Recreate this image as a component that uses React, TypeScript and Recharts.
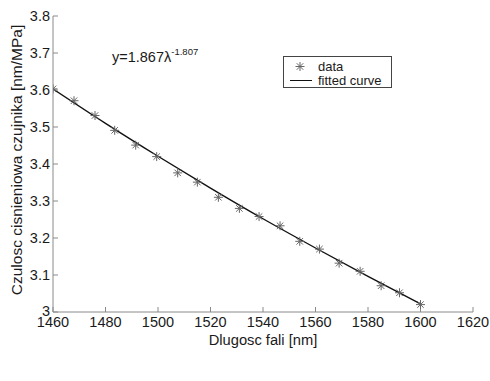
import React from "react";
import {
  ComposedChart,
  Line,
  Scatter,
  XAxis,
  YAxis,
  Legend,
} from "recharts";

// measured points (wavelength nm -> sensitivity nm/MPa)
const wavelengths = [
  1460, 1468, 1476, 1483.5, 1491.5, 1499.5, 1507.5, 1515, 1523, 1531, 1538.5,
  1546.5, 1554, 1561.5, 1569, 1577, 1585, 1592, 1600,
];
const sensitivity = [
  3.603, 3.571, 3.531, 3.491, 3.451, 3.42, 3.376, 3.351, 3.31, 3.28, 3.258,
  3.233, 3.191, 3.17, 3.132, 3.11, 3.071, 3.052, 3.02,
];

// fitted curve
const fitX = [1460, 1480, 1500, 1520, 1540, 1560, 1580, 1600];
const fitY = [3.603, 3.51, 3.421, 3.335, 3.252, 3.173, 3.096, 3.022];

const xTicks = [1460, 1480, 1500, 1520, 1540, 1560, 1580, 1600, 1620];
const yTicks = [3, 3.1, 3.2, 3.3, 3.4, 3.5, 3.6, 3.7, 3.8];

const measured = wavelengths.map((x, i) => ({ x, y: sensitivity[i] }));
const fitted = fitX.map((x, i) => ({ x, y: fitY[i] }));

const FONT = "'Liberation Sans', Arial, Helvetica, sans-serif";
const AXIS = "#8a8a8a";
const TEXT = "#1a1a1a";
const MARK = "#666";

function Star(props: any) {
  const { cx, cy } = props;
  if (cx == null || cy == null) return null;
  const r = 4.5;
  const d = r * 0.72;
  return (
    <g stroke={MARK} strokeWidth={1}>
      <line x1={cx - r} y1={cy} x2={cx + r} y2={cy} />
      <line x1={cx} y1={cy - r} x2={cx} y2={cy + r} />
      <line x1={cx - d} y1={cy - d} x2={cx + d} y2={cy + d} />
      <line x1={cx - d} y1={cy + d} x2={cx + d} y2={cy - d} />
    </g>
  );
}

// y tick label; the bottom "3" is lifted a little so it clears "1460"
function YTick(props: any) {
  const { x, y, payload } = props;
  const shift = payload.value === 3 ? -1 : 0;
  return (
    <text
      x={x}
      y={y + shift}
      dy="0.355em"
      textAnchor="end"
      fontSize={14.5}
      fontFamily={FONT}
      fill={TEXT}
    >
      {payload.value}
    </text>
  );
}

function LegendBox() {
  const row: React.CSSProperties = {
    display: "flex",
    alignItems: "center",
    height: 13,
    lineHeight: "13px",
  };
  return (
    <div
      style={{
        width: 109,
        height: 32,
        border: "1px solid #444",
        background: "#fff",
        fontFamily: FONT,
        fontSize: 13,
        color: TEXT,
        paddingTop: 3,
        boxSizing: "border-box",
      }}
    >
      <div style={{ ...row, marginBottom: 1 }}>
        <svg width={28} height={13} style={{ marginLeft: 6 }}>
          <Star cx={10} cy={6.5} />
        </svg>
        <span>data</span>
      </div>
      <div style={row}>
        <svg width={28} height={13} style={{ marginLeft: 6 }}>
          <line x1={0} y1={6.5} x2={22} y2={6.5} stroke="#111" strokeWidth={1} />
        </svg>
        <span>fitted curve</span>
      </div>
    </div>
  );
}

export default function App() {
  return (
    <div
      style={{
        position: "fixed",
        left: 0,
        top: 0,
        width: 490,
        height: 381,
        background: "#fff",
      }}
    >
      <ComposedChart
        width={490}
        height={381}
        margin={{ top: 16, right: 17, left: 0, bottom: 0 }}
      >
        <XAxis
          dataKey="x"
          type="number"
          domain={[1460, 1620]}
          ticks={xTicks}
          allowDataOverflow
          height={37}
          stroke={AXIS}
          tickSize={-5}
          tickMargin={10}
          tick={{ fontSize: 14.5, fill: TEXT, fontFamily: FONT }}
          label={{
            content: ({ viewBox }: any) => (
              <text
                x={viewBox.x + viewBox.width / 2}
                y={viewBox.y + 33}
                textAnchor="middle"
                fontSize={14.7}
                fontFamily={FONT}
                fill={TEXT}
              >
                Dlugosc fali [nm]
              </text>
            ),
          }}
        />
        <XAxis
          xAxisId="top"
          orientation="top"
          dataKey="x"
          type="number"
          domain={[1460, 1620]}
          ticks={xTicks}
          allowDataOverflow
          height={0}
          stroke={AXIS}
          tickSize={-5}
          tick={false}
        />
        <YAxis
          dataKey="y"
          type="number"
          domain={[3, 3.8]}
          ticks={yTicks}
          allowDataOverflow
          width={53}
          stroke={AXIS}
          tickSize={-5}
          tickMargin={8}
          tick={<YTick />}
          label={{
            content: ({ viewBox }: any) => {
              const cx = 22;
              const cy = viewBox.y + viewBox.height / 2 - 4;
              return (
                <text
                  x={cx}
                  y={cy}
                  transform={`rotate(-90 ${cx} ${cy})`}
                  textAnchor="middle"
                  fontSize={15.5}
                  fontFamily={FONT}
                  fill={TEXT}
                >
                  Czulosc cisnieniowa czujnika [nm/MPa]
                </text>
              );
            },
          }}
        />
        <YAxis
          yAxisId="right"
          orientation="right"
          dataKey="y"
          type="number"
          domain={[3, 3.8]}
          ticks={yTicks}
          allowDataOverflow
          width={0}
          stroke={AXIS}
          tickSize={-5}
          tick={false}
        />
        <Legend
          content={() => <LegendBox />}
          wrapperStyle={{ left: 283, top: 56, width: 109 }}
        />
        <Scatter
          name="data"
          data={measured}
          dataKey="y"
          shape={Star}
          isAnimationActive={false}
        />
        <Line
          name="fitted curve"
          data={fitted}
          dataKey="y"
          type="monotone"
          stroke="#111"
          strokeWidth={1.4}
          dot={false}
          activeDot={false}
          isAnimationActive={false}
        />
      </ComposedChart>
      <div
        style={{
          position: "absolute",
          left: 112,
          top: 49,
          fontFamily: FONT,
          fontSize: 14.5,
          color: TEXT,
          lineHeight: "16px",
          whiteSpace: "nowrap",
        }}
      >
        y=1.867λ
        <span style={{ fontSize: 9.5, position: "relative", top: -7 }}>
          -1.807
        </span>
      </div>
    </div>
  );
}
